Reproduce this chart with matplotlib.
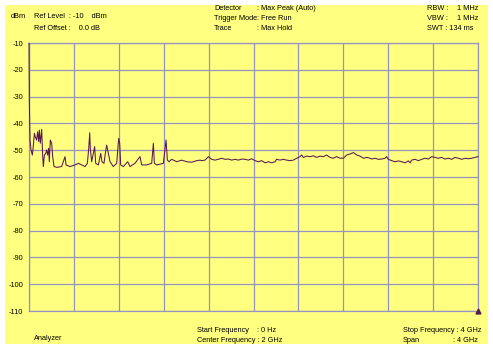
import matplotlib
matplotlib.use("Agg")
import matplotlib.pyplot as plt
from matplotlib.patches import Rectangle

# ---- data (GHz, dBm) ----
freq_ghz = [0.000, 0.003, 0.009, 0.018, 0.030, 0.039, 0.048, 0.056, 0.068, 0.077,
            0.086, 0.092, 0.101, 0.113, 0.122, 0.128, 0.137, 0.149, 0.157, 0.166,
            0.175, 0.181, 0.190, 0.202, 0.211, 0.223, 0.247, 0.291, 0.321, 0.330,
            0.365, 0.410, 0.440, 0.469, 0.499, 0.520, 0.532, 0.541, 0.546, 0.558,
            0.573, 0.585, 0.594, 0.618, 0.639, 0.650, 0.668, 0.680, 0.692, 0.707,
            0.722, 0.751, 0.781, 0.799, 0.808, 0.817, 0.841, 0.879, 0.900, 0.944,
            0.989, 1.004, 1.048, 1.093, 1.108, 1.117, 1.138, 1.197, 1.212, 1.221,
            1.233, 1.247, 1.271, 1.316, 1.360, 1.405, 1.449, 1.494, 1.524,
            1.538, 1.568, 1.598, 1.627, 1.657, 1.687, 1.717, 1.746, 1.776, 1.806,
            1.835, 1.865, 1.895, 1.925, 1.954, 1.984, 2.014, 2.043, 2.073, 2.103,
            2.133, 2.162, 2.192,
            2.206, 2.236, 2.266, 2.295, 2.325, 2.355, 2.385, 2.414, 2.429, 2.444,
            2.474, 2.504, 2.533, 2.563, 2.593, 2.622, 2.652, 2.682, 2.712, 2.741,
            2.771, 2.801, 2.830, 2.860, 2.890, 2.920, 2.949, 2.979, 3.009, 3.039,
            3.053, 3.082, 3.112, 3.142, 3.172, 3.186, 3.201, 3.231, 3.261, 3.290,
            3.320, 3.350, 3.380, 3.394, 3.409, 3.439, 3.469, 3.498, 3.528, 3.558,
            3.588, 3.617, 3.647, 3.677, 3.706, 3.736, 3.766, 3.795, 3.825, 3.855,
            3.885, 3.914, 3.944, 3.974, 4.000]
level_dbm = [-10.1, -31.9, -46.2, -49.9, -51.8, -48.1, -43.7, -45.0, -46.2, -43.1,
             -46.8, -42.5, -47.4, -42.2, -52.4, -56.1, -51.8, -51.2, -49.9, -51.8,
             -49.3, -54.3, -46.2, -47.4, -52.4, -56.1, -56.4, -56.1, -52.4, -55.5,
             -56.1, -55.5, -54.9, -55.5, -56.1, -54.9, -49.3, -43.5, -49.3, -54.3,
             -51.2, -48.7, -54.9, -55.5, -51.2, -54.3, -54.9, -51.2, -48.1, -51.2,
             -54.3, -56.1, -54.9, -45.6, -47.4, -55.5, -56.1, -54.3, -56.1, -54.9,
             -52.4, -55.5, -55.5, -54.9, -47.4, -54.9, -55.5, -54.9, -49.3, -46.2,
             -53.7, -54.3, -53.4, -54.3, -53.7, -54.3, -54.5, -53.9, -53.7,
             -53.9, -53.7, -52.4, -53.4, -53.7, -53.4, -53.0, -53.4, -53.3, -53.7,
             -53.4, -53.7, -53.3, -53.4, -53.7, -53.2, -53.9, -54.3, -53.9, -54.7,
             -54.3, -54.7, -54.3,
             -53.4, -53.7, -53.4, -53.7, -53.9, -53.7, -53.0, -52.4, -51.8, -52.7,
             -52.2, -52.4, -52.1, -52.7, -52.2, -52.4, -51.8, -52.7, -53.0, -52.4,
             -53.0, -53.0, -51.8, -51.4, -50.9, -51.8, -52.2, -53.0, -52.7, -53.0,
             -53.3, -53.0, -53.4, -53.3, -53.0, -52.4, -53.4, -53.9, -54.3, -54.0,
             -54.3, -54.7, -54.0, -54.7, -53.7, -53.4, -53.9, -53.4, -53.0, -53.3,
             -52.4, -52.7, -53.0, -52.7, -53.3, -53.0, -53.4, -52.7, -53.0, -53.4,
             -53.0, -53.2, -53.0, -52.7, -52.4]
y_ticks = [-10, -20, -30, -40, -50, -60, -70, -80, -90, -100, -110]
x_grid = [0.0, 0.4, 0.8, 1.2, 1.6, 2.0, 2.4, 2.8, 3.2, 3.6, 4.0]

YELLOW = "#FFFF80"
GRID = "#9494c4"
TRACE = "#5a1850"
FS = 5.3
plt.rcParams["font.family"] = ["Liberation Sans", "DejaVu Sans"]

W, H = 493, 344
fig = plt.figure(figsize=(W / 100, H / 100), dpi=100, facecolor="white")
fig.add_artist(Rectangle((5 / W, 0), 483 / W, 339 / H, transform=fig.transFigure,
                         facecolor=YELLOW, edgecolor="none", zorder=-5))

ax = fig.add_axes([29 / W, 33 / H, 449 / W, 268 / H])
ax.set_facecolor(YELLOW)
ax.set_xlim(0, 4)
ax.set_ylim(-110, -10)
ax.set_yticks(y_ticks)
ax.set_yticklabels([str(v) for v in y_ticks], fontsize=FS)
ax.set_xticks(x_grid)
ax.set_xticklabels([])
ax.tick_params(length=0, pad=4)
for v in y_ticks:
    ax.axhline(v, color=GRID, lw=0.9, zorder=1)
for v in x_grid:
    ax.axvline(v, color=GRID, lw=0.9, zorder=1)
for s in ax.spines.values():
    s.set_color(GRID)
    s.set_linewidth(0.9)

ax.plot(freq_ghz, level_dbm, color=TRACE, lw=0.75, zorder=3, clip_on=False)
ax.plot([4.0], [-110], marker="^", color=TRACE, markersize=3.5, clip_on=False, zorder=4)


def t(x, y, s, ha="left"):
    fig.text(x / W, 1 - y / H, s, fontsize=FS, ha=ha, va="center", color="black")


t(11, 17, "dBm")
t(34, 17, "Ref Level  : -10    dBm")
t(34, 28, "Ref Offset :    0.0 dB")
t(214, 9, "Detector")
t(214, 19, "Trigger Mode")
t(214, 28, "Trace")
t(257, 9, ": Max Peak (Auto)")
t(257, 19, ": Free Run")
t(257, 28, ": Max Hold")
t(427, 9, "RBW :")
t(427, 19, "VBW :")
t(427, 28, "SWT : 134 ms")
t(478, 9, "1 MHz", ha="right")
t(478, 19, "1 MHz", ha="right")
t(34, 339, "Analyzer")
t(197, 330, "Start Frequency")
t(257, 330, ": 0 Hz")
t(197, 340, "Center Frequency : 2 GHz")
t(403, 330, "Stop Frequency : 4 GHz")
t(403, 340, "Span")
t(478, 340, ": 4 GHz", ha="right")

fig.savefig("out.png", dpi=100, facecolor="white")
